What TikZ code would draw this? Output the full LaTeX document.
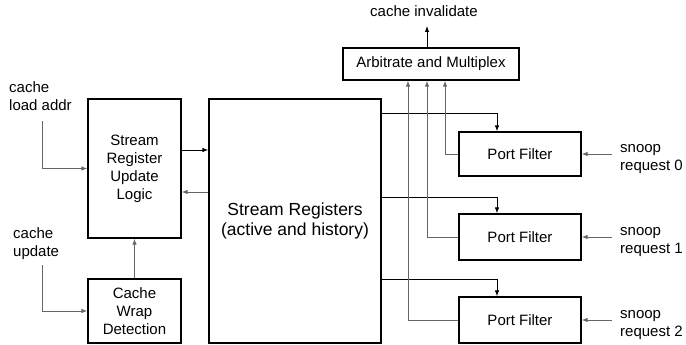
\documentclass[tikz,border=0pt]{standalone}
\usepackage{fontspec}
\setmainfont{Liberation Sans}
\usetikzlibrary{arrows.meta}
\begin{document}
\begin{tikzpicture}[x=1pt,y=-1pt,
  font=\fontsize{15}{18}\selectfont,
  box/.style={draw,line width=1.3pt,rectangle,inner sep=0pt,align=center},
  arr/.style={line width=0.9pt,-{Latex[length=6pt,width=4.5pt]}},
  garr/.style={arr,draw=black!60},
  lbl/.style={inner sep=0pt,align=left,anchor=north west}]
\useasboundingbox (0,0) rectangle (686,345);
% boxes
\node[box,minimum width=93pt,minimum height=139pt] (srul) at (134.5,168.5) {Stream\\Register\\Update\\Logic};
\node[box,minimum width=93pt,minimum height=64pt] (cwd) at (134.5,311) {Cache\\Wrap\\Detection};
\node[box,minimum width=172pt,minimum height=244pt,font=\fontsize{17.5}{20}\selectfont] (sr) at (295,221) {Stream Registers\\(active and history)};
\node[box,minimum width=176pt,minimum height=32pt] (am) at (431,64) {Arbitrate and Multiplex};
\node[box,minimum width=122pt,minimum height=44pt] (pf0) at (520,154) {Port Filter};
\node[box,minimum width=122pt,minimum height=46pt] (pf1) at (520,237) {Port Filter};
\node[box,minimum width=122pt,minimum height=46pt] (pf2) at (520,320) {Port Filter};
% labels
\node[inner sep=0pt,anchor=base] (cil) at (424,17) {cache invalidate};
\node[lbl] (clal) at (9,79.4) {\strut cache\\load addr};
\node[lbl] (cul) at (13,225.4) {\strut cache\\update};
\node[lbl] (s0l) at (620,139.4) {\strut snoop\\request 0};
\node[lbl] (s1l) at (620,222.4) {\strut snoop\\request 1};
\node[lbl] (s2l) at (620,305.4) {\strut snoop\\request 2};
% coordinates
\coordinate (cla) at (42,121);
\coordinate (cu) at (42,265);
\coordinate (ci) at (427,26);
\coordinate (s0) at (612,154);
\coordinate (s1) at (612,237);
\coordinate (s2) at (612,320);
% connectors
\draw[garr] (cla) |- (srul.west);
\draw[garr] (cu) |- (cwd.west);
\draw[garr] (cwd.north) -- (srul.south);
\draw[arr] ([yshift=18.5pt]srul.east) -- ([yshift=18.5pt]sr.west |- srul.east);
\draw[garr] ([yshift=-23.5pt]sr.west |- srul.east) -- ([yshift=-23.5pt]srul.east);
\draw[arr] ([xshift=-4pt]am.north) -- (ci);
\draw[arr] ([yshift=108pt]sr.east) -| ([xshift=-23pt]pf0.north);
\draw[arr] ([yshift=24pt]sr.east) -| ([xshift=-23pt]pf1.north);
\draw[arr] ([yshift=-58pt]sr.east) -| ([xshift=-23pt]pf2.north);
\draw[garr] (pf0.west) -| ([xshift=14pt]am.south);
\draw[garr] (pf1.west) -| ([xshift=-4pt]am.south);
\draw[garr] (pf2.west) -| ([xshift=-23pt]am.south);
\draw[garr] (s0) -- (pf0.east);
\draw[garr] (s1) -- (pf1.east);
\draw[garr] (s2) -- (pf2.east);
\end{tikzpicture}
\end{document}
